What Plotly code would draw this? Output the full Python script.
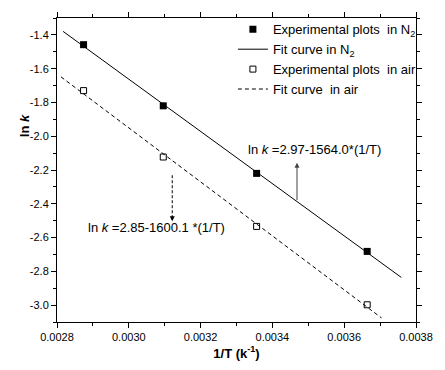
import numpy as np
import plotly.graph_objects as go

# ---- data ----
inv_T = [0.002874, 0.003096, 0.003356, 0.003664]
lnk_n2 = [-1.458, -1.820, -2.220, -2.682]
lnk_air = [-1.730, -2.123, -2.534, -2.998]

fit_range_n2 = [0.002817, 0.003759]
fit_range_air = [0.002811, 0.003704]

x_tickvals = [0.0028, 0.0030, 0.0032, 0.0034, 0.0036, 0.0038]
x_ticktext = ["0.0028", "0.0030", "0.0032", "0.0034", "0.0036", "0.0038"]
y_tickvals = [-3.0, -2.8, -2.6, -2.4, -2.2, -2.0, -1.8, -1.6, -1.4]
y_ticktext = ["-3.0", "-2.8", "-2.6", "-2.4", "-2.2", "-2.0", "-1.8", "-1.6", "-1.4"]

eq_n2 = "ln <i>k</i> =2.97-1564.0*(1/T)"
eq_air = "ln <i>k</i> =2.85-1600.1 *(1/T)"

FONT = "Liberation Sans, Arial, sans-serif"

# linear fits
p_n2 = np.polyfit(inv_T, lnk_n2, 1)
p_air = np.polyfit(inv_T, lnk_air, 1)
xf_n2 = np.array(fit_range_n2)
xf_air = np.array(fit_range_air)

fig = go.Figure()
fig.add_trace(go.Scatter(
    x=inv_T, y=lnk_n2, mode="markers", name="Experimental plots\u00a0 in N<sub>2</sub>",
    marker=dict(symbol="square", size=7, color="black"),
))
fig.add_trace(go.Scatter(
    x=xf_n2, y=np.polyval(p_n2, xf_n2), mode="lines", name="Fit curve in N<sub>2</sub>",
    line=dict(color="black", width=1),
))
fig.add_trace(go.Scatter(
    x=inv_T, y=lnk_air, mode="markers", name="Experimental plots\u00a0 in air",
    marker=dict(symbol="square-open", size=6, color="black", line=dict(width=1)),
))
fig.add_trace(go.Scatter(
    x=xf_air, y=np.polyval(p_air, xf_air), mode="lines", name="Fit curve\u00a0 in air",
    line=dict(color="black", width=1, dash="4px,3px"),
))

# annotations
fig.add_annotation(x=0.003517, y=-2.08, text=eq_n2, showarrow=False,
                   font=dict(family=FONT, size=13, color="black"))
fig.add_annotation(x=0.0034685, y=-2.157, ax=0.0034685, ay=-2.387, axref="x", ayref="y",
                   text="", showarrow=True, arrowhead=2, arrowsize=1, arrowwidth=1,
                   arrowcolor="#444444")
fig.add_shape(type="line", x0=0.003121, x1=0.003121, y0=-2.231, y1=-2.47,
              line=dict(color="black", width=1, dash="3px,2px"))
fig.add_annotation(x=0.003121, y=-2.503, ax=0.003121, ay=-2.46, axref="x", ayref="y",
                   text="", showarrow=True, arrowhead=2, arrowsize=1, arrowwidth=1,
                   arrowcolor="black")
fig.add_annotation(x=0.003078, y=-2.542, text=eq_air, showarrow=False,
                   font=dict(family=FONT, size=13, color="black"))

# y-axis title
fig.add_annotation(x=-0.118, y=-1.94, xref="paper", yref="y", text="<b>ln <i>k</i></b>",
                   textangle=-90, showarrow=False,
                   font=dict(family=FONT, size=13, color="black"))

axis_common = dict(
    showline=True, linecolor="black", linewidth=1, mirror="allticks",
    ticks="outside", ticklen=5, tickwidth=1, tickcolor="black",
    showgrid=False, zeroline=False,
    tickfont=dict(family=FONT, size=11, color="black"),
)

fig.update_xaxes(
    range=[0.0028, 0.0038], tickvals=x_tickvals, ticktext=x_ticktext,
    minor=dict(ticks="outside", ticklen=3, dtick=0.0001, tickcolor="black"),
    title=dict(text="<b>1/T (k<sup>-1</sup>)</b>", font=dict(family=FONT, size=13, color="black"),
               standoff=6),
    **axis_common,
)
fig.update_yaxes(
    range=[-3.1, -1.3], tickvals=y_tickvals, ticktext=y_ticktext,
    minor=dict(ticks="outside", ticklen=3, dtick=0.1, tickcolor="black"),
    **axis_common,
)

fig.update_layout(
    width=445, height=370,
    margin=dict(l=57, r=16, t=12, b=46),
    plot_bgcolor="white", paper_bgcolor="white",
    font=dict(family=FONT, color="black"),
    legend=dict(x=0.49, y=1.012, xanchor="left", yanchor="top",
                bgcolor="rgba(0,0,0,0)", borderwidth=0,
                font=dict(family=FONT, size=13, color="black"),
                tracegroupgap=2, itemwidth=30),
    showlegend=True,
)

fig.write_html("out.html")
